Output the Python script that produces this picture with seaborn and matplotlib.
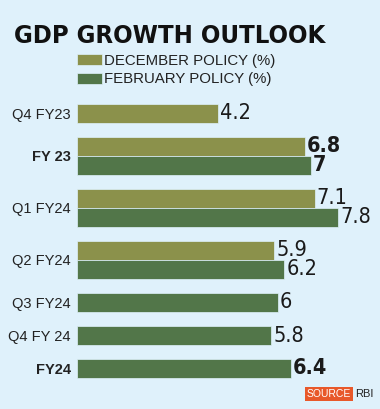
import numpy as np
import pandas as pd
import matplotlib.pyplot as plt
import seaborn as sns
from matplotlib import font_manager as fm

# Data
categories = ['Q4 FY23', 'FY 23', 'Q1 FY24', 'Q2 FY24', 'Q3 FY24', 'Q4 FY 24', 'FY24']
december = [4.2, 6.8, 7.1, 5.9, None, None, None]
february = [None, 7.0, 7.8, 6.2, 6.0, 5.8, 6.4]
series_names = ['DECEMBER POLICY (%)', 'FEBRUARY POLICY (%)']
bold_categories = ['FY 23', 'FY24']

BG = '#dff1fb'
COLORS = ['#959c40', '#4e7d41']
GAP = 14 / 19  # gap between category groups, in bar heights

sns.set_theme(style='white')
plt.rcParams['font.family'] = ['Liberation Sans', 'DejaVu Sans']


def weight_num(w):
    if isinstance(w, str):
        return fm.weight_dict.get(w, 400)
    return w


# pick a bold condensed face for the title/values if one is installed
entries = fm.fontManager.ttflist
cond_font = {'family': ['Liberation Sans', 'DejaVu Sans']}
cands = [f for f in entries
         if ('Narrow' in f.name or 'Condensed' in f.name or f.stretch == 'condensed')
         and weight_num(f.weight) >= 600]
if cands:
    best = max(cands, key=lambda f: weight_num(f.weight) == 700)
    cond_font = {'family': [best.name, 'Liberation Sans']}
    if best.stretch == 'condensed':
        cond_font['fontstretch'] = 'condensed'

# one row per bar, stacked top to bottom, groups separated by GAP
rows = []
centers = []
pos = 0.0
for cat, dec, feb in zip(categories, december, february):
    start = pos
    for name, val in zip(series_names, (dec, feb)):
        if val is None:
            continue
        rows.append({'category': cat, 'policy': name, 'value': val, 'pos': pos})
        pos += 1
    centers.append((start + pos - 1) / 2)
    pos += GAP
df = pd.DataFrame(rows)

fig = plt.figure(figsize=(3.8, 4.09), dpi=100, facecolor=BG)
ax = fig.add_axes([77 / 380, 1 - 385 / 409, 303 / 380, (385 - 95) / 409])
ax.set_facecolor(BG)

sns.barplot(data=df, x='value', y='pos', hue='policy', hue_order=series_names,
            palette=COLORS, orient='h', native_scale=True, dodge=False, width=1,
            linewidth=0.5, edgecolor=BG, ax=ax)

ax.set_xlim(0, 303 / 33.46)
ax.set_ylim(df['pos'].max() + 0.5 + 7 / 19, -0.5 - 9 / 19)
ax.set_xticks([])
ax.set_yticks(centers, categories)
ax.tick_params(axis='y', length=0, pad=4.5, labelsize=10.5, labelcolor='#222222')
for lbl in ax.get_yticklabels():
    if lbl.get_text() in bold_categories:
        lbl.set_fontweight('bold')
ax.set_xlabel('')
ax.set_ylabel('')
for s in ax.spines.values():
    s.set_visible(False)

# value labels at bar ends
for _, r in df.iterrows():
    bold = r['category'] in bold_categories
    ax.text(r['value'] + 0.06, r['pos'], f"{r['value']:g}", ha='left', va='center',
            fontsize=15.5, fontweight='bold' if bold else 'normal', color='#1a1a1a',
            **cond_font)

handles, labels = ax.get_legend_handles_labels()
ax.legend(handles, labels, loc='upper left', bbox_to_anchor=(77 / 380, 1 - 54 / 409),
          bbox_transform=fig.transFigure, frameon=False, fontsize=10.8,
          handlelength=1.65, handleheight=0.72, handletextpad=0.15,
          labelspacing=0.3, borderpad=0, borderaxespad=0, labelcolor='#222222')

title = fig.text(14 / 380, 1 - 43 / 409, 'GDP GROWTH OUTLOOK', fontweight='bold',
                 fontsize=24, va='baseline', color='#111111', **cond_font)
# shrink the title until it spans the same width as in the reference (311 px)
renderer = fig.canvas.get_renderer()
w = title.get_window_extent(renderer).width
title.set_fontsize(24 * 311 / w)

fig.text(329 / 380, 1 - 394 / 409, 'SOURCE', ha='center', va='center', color='white',
         fontsize=7.5, bbox=dict(boxstyle='square,pad=0.2', fc='#e8582a', ec='none'))
fig.text(355 / 380, 1 - 394 / 409, 'RBI', ha='left', va='center', fontsize=8,
         color='#222222')

fig.savefig('out.png', dpi=100, facecolor=BG)
